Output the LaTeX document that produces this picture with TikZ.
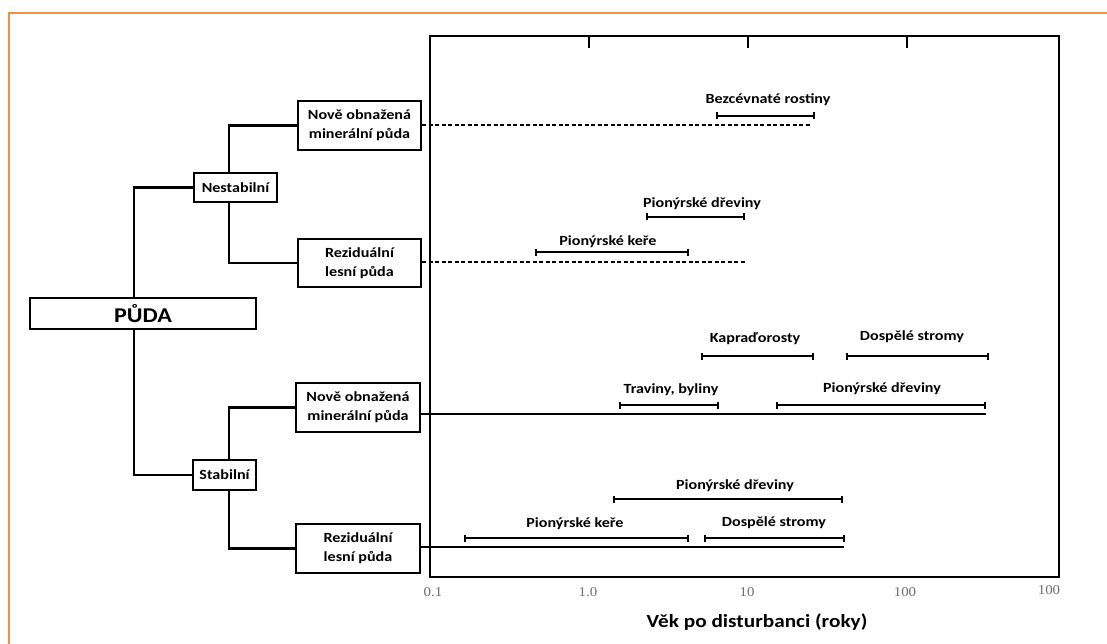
\documentclass[tikz,border=0pt]{standalone}
\usepackage{fontspec}
\setmainfont[FakeStretch=1.15]{Carlito}
\newfontfamily\tickfont[FakeStretch=1.1]{Liberation Serif}
\usetikzlibrary{arrows.meta}
\definecolor{frameorange}{RGB}{241,145,72}
\definecolor{tickgray}{RGB}{110,110,110}
\begin{document}
\begin{tikzpicture}[x=1pt,y=-1pt,
  box/.style={draw, line width=2.2pt, inner sep=0pt, align=center, font=\fontsize{14}{19}\selectfont\bfseries},
  tree/.style={line width=2.2pt},
  bar/.style={line width=2pt, {Bar[width=7pt,line width=1.6pt]}-{Bar[width=7pt,line width=1.6pt]}},
  lbl/.style={font=\fontsize{14}{15}\selectfont\bfseries, inner sep=0pt},
  ticklbl/.style={font=\tickfont\fontsize{13.5}{15}\selectfont, text=tickgray, inner sep=0pt},
  dline/.style={line width=2pt, dash pattern=on 4pt off 2.5pt},
  sline/.style={line width=2pt}
]
\useasboundingbox (0,0) rectangle (1107,644);
% orange outer frame
\draw[frameorange, line width=1.5pt] (1107,13) -- (9,13) -- (9,644);

% plot frame
\draw[line width=2.6pt] (430,36) rectangle (1059,577);
\foreach \tx in {589,748,907} \draw[line width=2pt] (\tx,36) -- (\tx,48);

% tick labels
\node[ticklbl] (t1) at (433,592) {0.1};
\node[ticklbl] (t2) at (588,592) {1.0};
\node[ticklbl] (t3) at (747,592) {10};
\node[ticklbl] (t4) at (905,592) {100};
\node[ticklbl] (t5) at (1049,590) {100};
\node[font=\fontsize{18.5}{20}\selectfont\bfseries] (xt) at (757,622) {Věk po disturbanci (roky)};

% tree boxes
\node[box, minimum width=226pt, minimum height=31pt, font=\fontsize{21}{24}\selectfont\bfseries] (puda) at (143,313.5) {PŮDA};
\node[box, minimum width=83pt, minimum height=29pt] (nest) at (235.5,187.5) {Nestabilní};
\node[box, minimum width=63pt, minimum height=30pt] (stab) at (224.5,475) {Stabilní};
\node[box, minimum width=123pt, minimum height=49pt] (nm1) at (359.5,125.5) {Nově obnažená\\minerální půda};
\node[box, minimum width=123pt, minimum height=48pt] (rl1) at (359.5,263) {Reziduální\\lesní půda};
\node[box, minimum width=124pt, minimum height=49pt] (nm2) at (358,407.5) {Nově obnažená\\minerální půda};
\node[box, minimum width=124pt, minimum height=49pt] (rl2) at (358,548.5) {Reziduální\\lesní půda};

% tree connectors
\coordinate (px) at (134,0);
\coordinate (nx) at (229,0);
\draw[tree] (px |- puda.north) |- (nest.west);
\draw[tree] (px |- puda.south) |- (stab.west);
\draw[tree] (nx |- nest.north) |- (nm1.west);
\draw[tree] (nx |- nest.south) |- (rl1.west);
\draw[tree] (nx |- stab.north) |- (nm2.west);
\draw[tree] (nx |- stab.south) |- (rl2.west);

% time lines
\coordinate (e1) at (812,125);
\coordinate (e2) at (745,262);
\coordinate (e3) at (986,414);
\coordinate (e4) at (844,547);
\draw[dline] (nm1.east |- e1) -- (e1);
\draw[dline] (rl1.east |- e2) -- (e2);
\draw[sline] (nm2.east |- e3) -- (e3);
\draw[sline] (rl2.east |- e4) -- (e4);

% bars and labels
\draw[bar] (716,116) -- (815,116);
\node[lbl] (b1) at (768,100) {Bezcévnaté rostiny};
\draw[bar] (646,217) -- (745,217);
\node[lbl] (b2) at (702,204) {Pionýrské dřeviny};
\draw[bar] (535,252) -- (689,252);
\node[lbl] (b3) at (608,242) {Pionýrské keře};
\draw[bar] (701,356) -- (814,356);
\node[lbl] (b4) at (755,339) {Kapraďorosty};
\draw[bar] (846,356) -- (989,356);
\node[lbl] (b5) at (912,337) {Dospělé stromy};
\draw[bar] (619,405) -- (719,405);
\node[lbl] (b6) at (671,390) {Traviny, byliny};
\draw[bar] (776,405) -- (986,405);
\node[lbl] (b7) at (882,389) {Pionýrské dřeviny};
\draw[bar] (613,499) -- (843,499);
\node[lbl] (b8) at (735,486) {Pionýrské dřeviny};
\draw[bar] (464,538) -- (689,538);
\node[lbl] (b9) at (575,524) {Pionýrské keře};
\draw[bar] (704,538) -- (845,538);
\node[lbl] (b10) at (774,523) {Dospělé stromy};
\end{tikzpicture}
\end{document}
